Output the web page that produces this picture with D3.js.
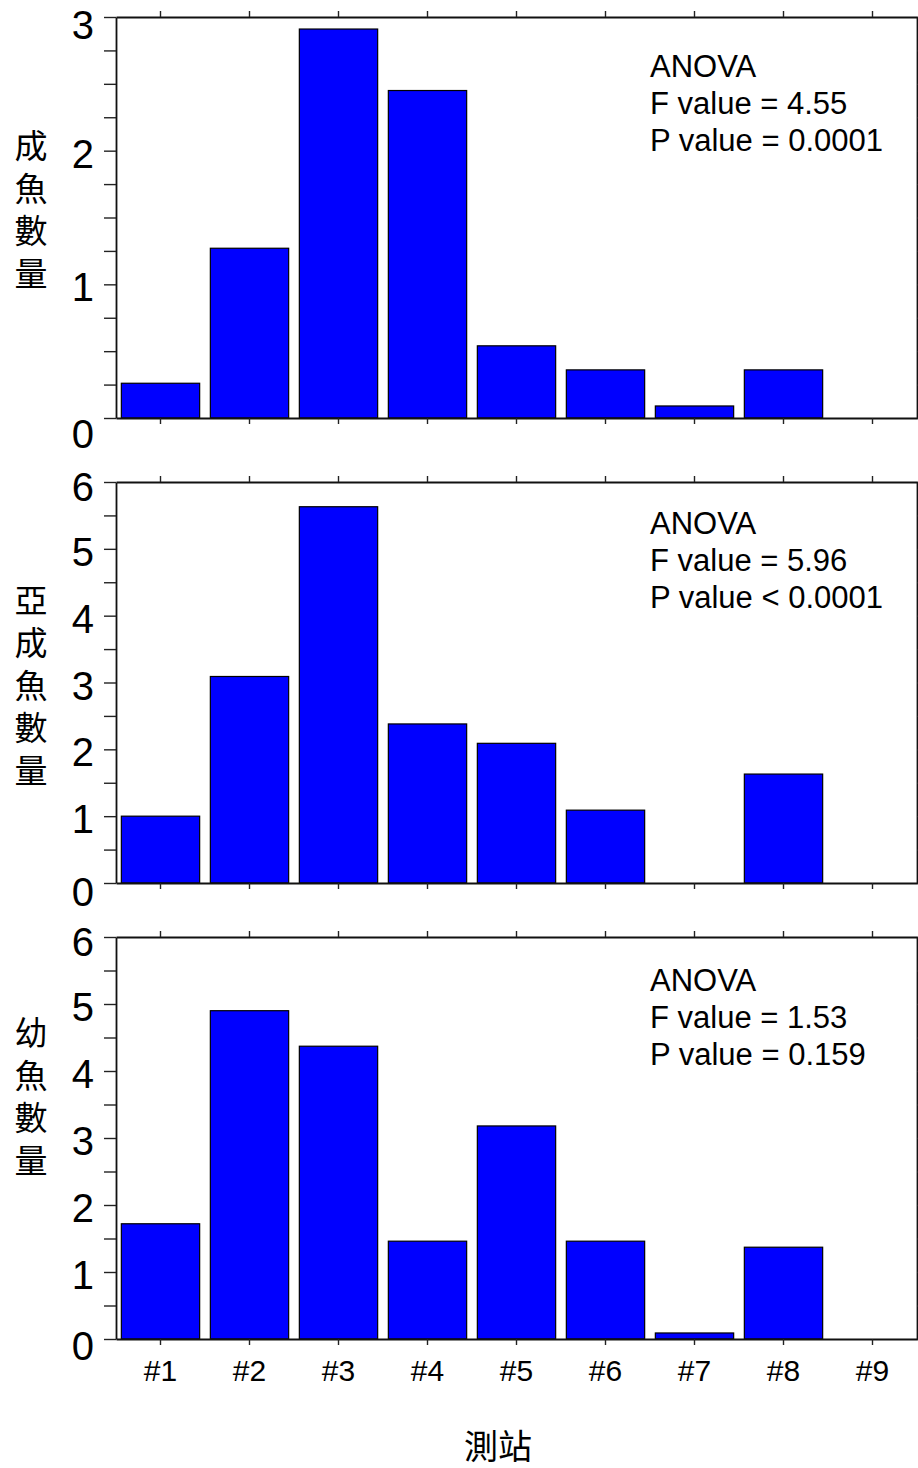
<!DOCTYPE html>
<html>
<head>
<meta charset="utf-8">
<script src="https://cdn.jsdelivr.net/npm/d3@7"></script>
<style>
  html, body { margin: 0; padding: 0; background: #fff; }
  svg { display: block; }
</style>
</head>
<body>
<svg id="chart" width="918" height="1468"></svg>
<script>
// ---- data ----
const stations = ["#1", "#2", "#3", "#4", "#5", "#6", "#7", "#8", "#9"];
const adultValues    = [0.26, 1.27, 2.91, 2.45, 0.54, 0.36, 0.09, 0.36, 0];
const subadultValues = [1.00, 3.09, 5.63, 2.38, 2.09, 1.09, 0, 1.63, 0];
const juvenileValues = [1.72, 4.90, 4.37, 1.46, 3.18, 1.46, 0.09, 1.37, 0];
const panelLabels = ["成魚數量", "亞成魚數量", "幼魚數量"];
const yMaxes = [3, 6, 6];
const yMajorTicks = [[0, 1, 2, 3], [0, 1, 2, 3, 4, 5, 6], [0, 1, 2, 3, 4, 5, 6]];
const yMinorSteps = [0.25, 0.5, 0.5];
const anovaLines = [
  ["ANOVA", "F value = 4.55", "P value = 0.0001"],
  ["ANOVA", "F value = 5.96", "P value < 0.0001"],
  ["ANOVA", "F value = 1.53", "P value = 0.159"]
];
const xTitle = "測站";

// ---- layout ----
const left = 116, right = 917;
const panelTops = [17, 482, 937];
const panelBottoms = [418, 883, 1339];
const labelCenterOffsets = [193, 204, 160];
const anovaBaselineOffsets = [60, 52, 54];
const zeroLabelDy = [16, 9, 7];
const topLabelDy = [8, 5, 5];
const numFont = "'Liberation Sans', Arial, Helvetica, sans-serif";
const cjkFont = "'Noto Sans CJK TC', 'Noto Sans CJK SC', sans-serif";
const barFill = "#0000ff";

const svg = d3.select("#chart");
const allValues = [adultValues, subadultValues, juvenileValues];

allValues.forEach((vals, i) => {
  const top = panelTops[i], bottom = panelBottoms[i];
  const x = d3.scaleBand().domain(stations).range([left, right])
    .paddingInner(0.12).paddingOuter(0.06);
  const y = d3.scaleLinear().domain([0, yMaxes[i]]).range([bottom, top]);
  const g = svg.append("g");

  // bars
  g.selectAll("rect.bar")
    .data(vals.map((v, k) => ({ s: stations[k], v })).filter(d => d.v > 0))
    .enter().append("rect")
    .attr("class", "bar")
    .attr("x", d => x(d.s))
    .attr("width", x.bandwidth())
    .attr("y", d => y(d.v))
    .attr("height", d => y(0) - y(d.v))
    .attr("fill", barFill)
    .attr("stroke", "#000")
    .attr("stroke-width", 1.2);

  const minor = d3.range(0, yMaxes[i] + 1e-9, yMinorSteps[i]);

  const leftAxis = d3.axisLeft(y).tickValues(minor).tickSize(12).tickSizeOuter(0).tickFormat("");
  const la = g.append("g").attr("transform", `translate(${left},0)`).call(leftAxis);
  const rightAxis = d3.axisRight(y).tickValues(minor).tickSize(6).tickSizeOuter(0).tickFormat("");
  const ra = g.append("g").attr("transform", `translate(${right},0)`).call(rightAxis);
  const bottomAxis = d3.axisBottom(x).tickSize(6).tickSizeOuter(0).tickFormat("");
  const ba = g.append("g").attr("transform", `translate(0,${bottom})`).call(bottomAxis);
  const topAxis = d3.axisTop(x).tickSize(6).tickSizeOuter(0).tickFormat("");
  const ta = g.append("g").attr("transform", `translate(0,${top})`).call(topAxis);

  [la, ra, ba, ta].forEach(a => {
    a.selectAll("path.domain").attr("stroke", "#111").attr("stroke-width", 1.8);
    a.selectAll(".tick line").attr("stroke", "#222").attr("stroke-width", 1.4);
  });

  // y tick labels
  const ymax = yMaxes[i];
  g.selectAll("text.ylab")
    .data(yMajorTicks[i])
    .enter().append("text")
    .attr("class", "ylab")
    .attr("x", left - 22)
    .attr("y", d => y(d) + (d === 0 ? zeroLabelDy[i] : (d === ymax ? topLabelDy[i] : 3)))
    .attr("text-anchor", "end")
    .attr("dominant-baseline", "central")
    .style("font-family", numFont)
    .style("font-size", "40px")
    .attr("fill", "#000")
    .text(d => d);

  // x tick labels (bottom panel only)
  if (i === allValues.length - 1) {
    g.selectAll("text.xlab")
      .data(stations)
      .enter().append("text")
      .attr("class", "xlab")
      .attr("x", d => x(d) + x.bandwidth() / 2)
      .attr("y", bottom + 42)
      .attr("text-anchor", "middle")
      .style("font-family", numFont)
      .style("font-size", "30px")
      .attr("fill", "#000")
      .text(d => d);
  }

  // vertical CJK y-label (single text, vertical writing)
  const cy = top + labelCenterOffsets[i];
  g.append("text")
    .attr("class", "ytitle")
    .attr("x", 31)
    .attr("y", cy + 4)
    .attr("text-anchor", "middle")
    .style("writing-mode", "vertical-rl")
    .style("letter-spacing", "9.5px")
    .style("font-family", cjkFont)
    .style("font-size", "33px")
    .attr("fill", "#000")
    .text(panelLabels[i]);

  // ANOVA annotation
  g.selectAll("text.anova")
    .data(anovaLines[i])
    .enter().append("text")
    .attr("class", "anova")
    .attr("x", 650)
    .attr("y", (d, k) => top + anovaBaselineOffsets[i] + k * 37)
    .style("font-family", numFont)
    .style("font-size", "31px")
    .attr("fill", "#000")
    .text(d => d);
});

// x title
svg.append("text")
  .attr("x", 498)
  .attr("y", 1459)
  .attr("text-anchor", "middle")
  .style("font-family", cjkFont)
  .style("font-size", "34px")
  .attr("fill", "#000")
  .text(xTitle);
</script>
</body>
</html>
